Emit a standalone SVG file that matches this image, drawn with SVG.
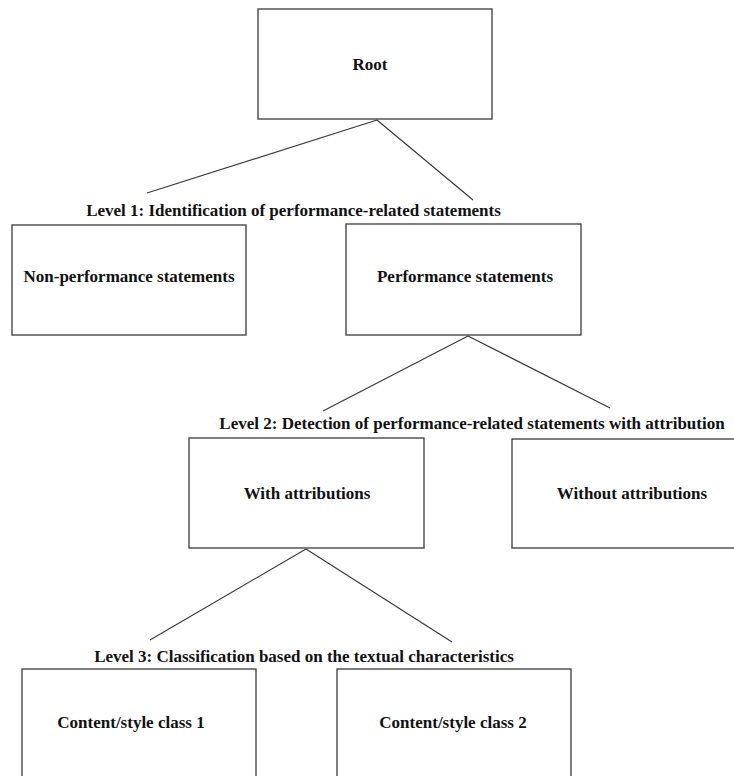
<svg xmlns="http://www.w3.org/2000/svg" width="734" height="776" viewBox="0 0 734 776">
<style>
  .box { fill: #ffffff; stroke: #3a3a3a; stroke-width: 1.3; }
  .edge { stroke: #3a3a3a; stroke-width: 1.2; fill: none; }
  .t { font-family: "Liberation Serif", "Times New Roman", serif; font-weight: bold; font-size: 17px; fill: #111111; text-anchor: middle; }
</style>
<rect width="734" height="776" fill="#ffffff"/>
<g id="connectors">
  <line class="edge" x1="377" y1="120" x2="147" y2="193"/>
  <line class="edge" x1="377" y1="120" x2="473" y2="200"/>
  <line class="edge" x1="468" y1="336" x2="323" y2="411"/>
  <line class="edge" x1="468" y1="336" x2="610" y2="408"/>
  <line class="edge" x1="306" y1="549" x2="150" y2="640"/>
  <line class="edge" x1="306" y1="549" x2="452" y2="642"/>
</g>
<g id="labels">
  <text class="t" x="293.5" y="216">Level 1: Identification of performance-related statements</text>
  <text class="t" x="472" y="429">Level 2: Detection of performance-related statements with attribution</text>
  <text class="t" x="304" y="662">Level 3: Classification based on the textual characteristics</text>
</g>
<g id="root">
  <rect class="box" x="258" y="9" width="234" height="110"/>
  <text class="t" x="370" y="70">Root</text>
</g>
<g id="non-performance">
  <rect class="box" x="12" y="225" width="234" height="110"/>
  <text class="t" x="129" y="282">Non-performance statements</text>
</g>
<g id="performance">
  <rect class="box" x="346" y="224" width="235" height="111"/>
  <text class="t" x="465" y="282">Performance statements</text>
</g>
<g id="with-attributions">
  <rect class="box" x="189" y="438" width="235" height="110"/>
  <text class="t" x="307" y="499">With attributions</text>
</g>
<g id="without-attributions">
  <rect class="box" x="512" y="439" width="234" height="109"/>
  <text class="t" x="632" y="499">Without attributions</text>
</g>
<g id="class1">
  <rect class="box" x="22" y="669" width="234" height="120"/>
  <text class="t" x="131" y="728">Content/style class 1</text>
</g>
<g id="class2">
  <rect class="box" x="337" y="669" width="234" height="120"/>
  <text class="t" x="453" y="728">Content/style class 2</text>
</g>
</svg>
